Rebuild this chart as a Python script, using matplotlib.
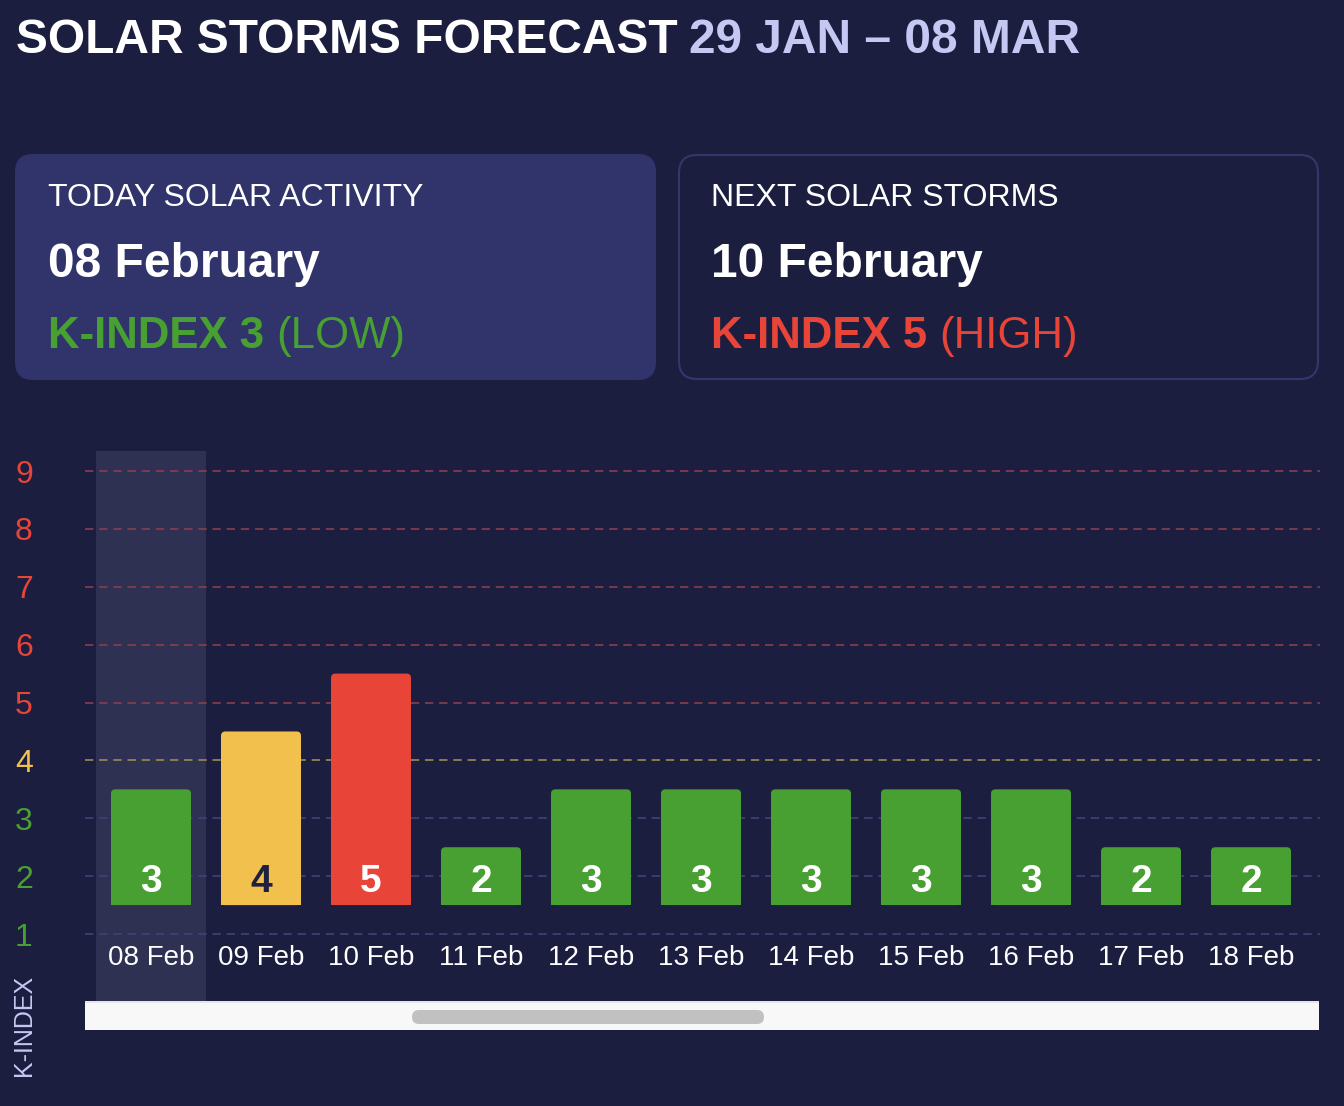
import matplotlib
matplotlib.use("Agg")
import matplotlib.pyplot as plt
from matplotlib.patches import FancyBboxPatch, Rectangle

# data
days = ["08 Feb", "09 Feb", "10 Feb", "11 Feb", "12 Feb", "13 Feb",
        "14 Feb", "15 Feb", "16 Feb", "17 Feb", "18 Feb"]
kindex = [3, 4, 5, 2, 3, 3, 3, 3, 3, 2, 2]
levels = [1, 2, 3, 4, 5, 6, 7, 8, 9]
today = 0

title_main = "SOLAR STORMS FORECAST"
title_range = "29 JAN – 08 MAR"
cards = [
    ("TODAY SOLAR ACTIVITY", "08 February", "K-INDEX 3", "(LOW)"),
    ("NEXT SOLAR STORMS", "10 February", "K-INDEX 5", "(HIGH)"),
]

BG = "#1c1e40"
PANEL = "#30346a"
GREEN = "#48a032"
YELLOW = "#f2c04c"
RED = "#e84438"
LAVENDER = "#c5c8f2"


def level_color(v):
    if v >= 5:
        return RED
    if v == 4:
        return YELLOW
    return GREEN


def grid_color(v):
    if v >= 5:
        return "#8e3b4d"
    if v == 4:
        return "#a08858"
    return "#3e4478"


plt.rcParams["font.family"] = ["Liberation Sans", "DejaVu Sans"]

W, H = 1344, 1106
fig = plt.figure(figsize=(W / 100, H / 100), dpi=100, facecolor=BG)

# overlay in pixel coordinates for the header and the cards
ov = fig.add_axes([0, 0, 1, 1], zorder=0)
ov.set_xlim(0, W)
ov.set_ylim(H, 0)
ov.axis("off")

t1 = ov.text(16, 53, title_main, color="white", fontsize=34.5, fontweight="bold",
             va="baseline", ha="left")
ov.annotate(title_range, xy=(1, 0), xycoords=t1, xytext=(8, 0),
            textcoords="offset points", color=LAVENDER, fontsize=34.5,
            fontweight="bold", va="bottom", ha="left")

card_x = [15, 678]
for i, (head, date, kbold, klevel) in enumerate(cards):
    x0 = card_x[i]
    if i == 0:
        box = FancyBboxPatch((x0, 154), 641, 226, boxstyle="round,pad=0,rounding_size=18",
                             facecolor=PANEL, edgecolor="none")
        col = GREEN
    else:
        box = FancyBboxPatch((x0 + 1, 155), 639, 224, boxstyle="round,pad=0,rounding_size=18",
                             facecolor=BG, edgecolor="#33386c", linewidth=1.5)
        col = RED
    ov.add_patch(box)
    tx = x0 + 33
    ov.text(tx, 206, head, color="white", fontsize=23, va="baseline", ha="left")
    ov.text(tx, 277, date, color="white", fontsize=34.5, fontweight="bold",
            va="baseline", ha="left")
    kb = ov.text(tx, 348, kbold, color=col, fontsize=31.5, fontweight="bold",
                 va="baseline", ha="left")
    ov.annotate(klevel, xy=(1, 0), xycoords=kb, xytext=(9, 0),
                textcoords="offset points", color=col, fontsize=31.5,
                va="bottom", ha="left")

# chart axes: 85..1320 px wide, 451..1001 px tall
ax = fig.add_axes([85 / W, 1 - 1001 / H, (1320 - 85) / W, (1001 - 451) / H], zorder=1)
ax.set_facecolor("none")
x = list(range(len(days)))
ax.set_xlim(-0.6, 10.627)
ax.set_ylim(-0.157, 9.346)

ax.axvspan(today - 0.5, today + 0.5, color="#2e3152", zorder=0, lw=0)
for v in levels:
    ax.axhline(v, color=grid_color(v), lw=1.2, ls=(0, (5, 3.5)), zorder=1)

base = 1.5
bars = ax.bar(x, [k - 1 for k in kindex], bottom=base, width=80 / 110,
              color=[level_color(k) for k in kindex], zorder=2)

# round the top corners: rounded box + square patch over the lower half
aspect = 110 / 57.875
for b in bars:
    bx, by, bw, bh = b.get_x(), b.get_y(), b.get_width(), b.get_height()
    fc = b.get_facecolor()
    b.remove()
    ax.add_patch(FancyBboxPatch((bx, by), bw, bh, boxstyle="round,pad=0,rounding_size=0.04",
                                mutation_aspect=aspect, facecolor=fc, edgecolor="none", zorder=2))
    ax.add_patch(Rectangle((bx, by), bw, bh / 2, facecolor=fc, edgecolor="none", zorder=2))

for i, k in enumerate(kindex):
    ax.text(i, 1.73, str(k), color="#1e2040" if k == 4 else "white",
            fontsize=28, fontweight="bold", ha="center", va="baseline", zorder=3)
    ax.text(i, 0.465, days[i], color="white", fontsize=20, ha="center",
            va="baseline", zorder=3)

ax.set_xticks([])
ax.set_yticks(levels)
ax.set_yticklabels([str(v) for v in levels], fontsize=23)
for lab, v in zip(ax.get_yticklabels(), levels):
    lab.set_color(level_color(v))
    lab.set_horizontalalignment("center")
ax.tick_params(axis="y", length=0, pad=44)
for s in ax.spines.values():
    s.set_visible(False)

# scrollbar under the chart
ov.add_patch(Rectangle((85, 1001), 1234, 29, facecolor="#f8f8f8", edgecolor="none", zorder=2))
ov.add_patch(Rectangle((85, 1001), 1234, 1.5, facecolor="#e6e6e6", edgecolor="none", zorder=2))
ov.add_patch(FancyBboxPatch((412, 1010), 352, 14, boxstyle="round,pad=0,rounding_size=7",
                            facecolor="#c1c1c1", edgecolor="none", zorder=3))

ov.text(24, 1025, "K-INDEX", color=LAVENDER, fontsize=18, rotation=90,
        ha="center", va="center")

fig.savefig("out.png", dpi=100, facecolor=BG)
